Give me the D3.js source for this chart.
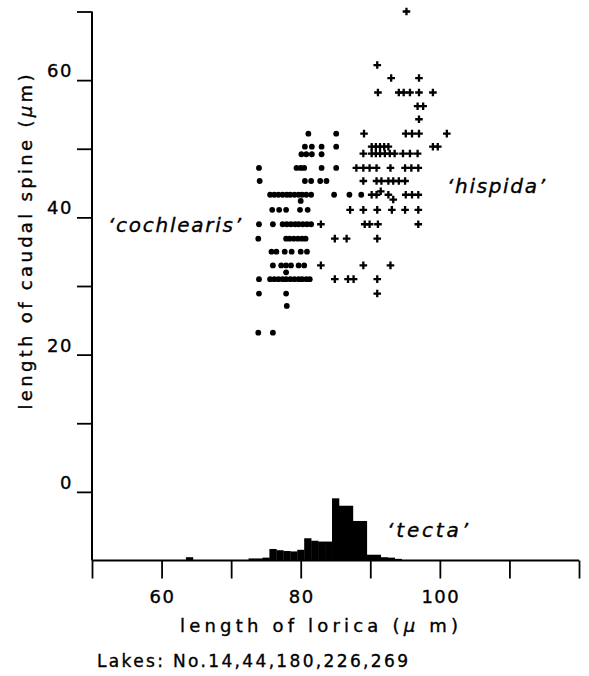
<!DOCTYPE html>
<html>
<head>
<meta charset="utf-8">
<script src="https://cdn.jsdelivr.net/npm/d3@7"></script>
<style>
  html, body { margin: 0; padding: 0; background: #fff; }
  svg { display: block; }
  text { font-family: "DejaVu Sans", sans-serif; fill: #000; stroke: #000; stroke-width: 0.35px; }
</style>
</head>
<body>
<div id="chart"></div>
<script>
// ---------- DATA ----------
// 'cochlearis' : [length of lorica (µm), length of caudal spine (µm)]
const cochlearis = [
  [81.1,52.2],[85.1,52.2],
  [80.6,50.3],[81.6,50.3],[83.0,50.3],[85.1,50.3],
  [80.1,49.2],[80.8,49.2],[81.6,49.2],[83.0,49.2],
  [74.0,47.2],[79.4,47.2],[80.0,47.2],[80.5,47.2],[83.0,47.2],[85.1,47.2],
  [74.1,45.3],[80.6,45.3],[81.5,45.3],[82.8,45.3],[83.7,45.3],
  [75.6,43.3],[76.2,43.3],[76.8,43.3],[77.4,43.3],[78.0,43.3],[78.5,43.3],[79.1,43.3],[79.7,43.3],[80.2,43.3],[80.8,43.3],[81.5,43.3],
  [80.0,42.4],[84.8,43.3],[87.0,43.3],[88.7,43.3],
  [75.9,41.1],[76.9,41.1],[77.9,41.1],[79.9,41.1],[81.0,41.1],
  [74.0,39.0],[76.0,39.0],[77.4,39.0],[78.0,39.0],[78.6,39.0],[79.2,39.0],[79.7,39.0],[80.3,39.0],[80.9,39.0],[81.5,39.0],
  [73.9,36.9],[77.9,36.9],[78.4,36.9],[79.0,36.9],[79.6,36.9],[80.2,36.9],[80.7,36.9],
  [75.8,35.0],[76.5,35.0],[77.7,35.0],[78.7,35.0],[80.0,35.0],[80.9,35.0],
  [76.0,33.0],[77.2,33.0],[77.9,33.0],[78.6,33.0],[79.7,33.0],[80.5,33.0],[77.9,32.0],
  [74.0,31.0],[75.6,31.0],[76.2,31.0],[76.8,31.0],[77.4,31.0],[77.9,31.0],[78.5,31.0],[79.1,31.0],[79.7,31.0],[80.2,31.0],[80.8,31.0],[81.3,31.0],
  [74.0,28.9],[77.9,28.9],
  [78.0,27.1],
  [73.9,23.2],[76.0,23.2]
];
// 'hispida'
const hispida = [
  [95.2,70.0],
  [91.0,62.2],
  [93.0,60.3],[97.0,60.3],
  [91.1,58.2],[94.1,58.2],[94.8,58.2],[95.7,58.2],[97.0,58.2],[99.0,58.2],
  [96.8,56.2],[97.6,56.2],
  [97.0,54.3],
  [89.1,52.2],[95.1,52.2],[96.0,52.2],[97.0,52.2],[101.0,52.2],
  [90.2,50.3],[90.8,50.3],[91.4,50.3],[92.0,50.3],[92.6,50.3],[99.0,50.3],[99.7,50.3],
  [89.0,49.3],[90.2,49.3],[90.8,49.3],[91.4,49.3],[92.1,49.3],[92.8,49.3],[93.5,49.3],[94.7,49.3],[95.7,49.3],[96.8,49.3],
  [88.0,47.2],[89.0,47.2],[89.9,47.2],[90.9,47.2],[92.9,47.2],[95.0,47.2],[95.9,47.2],[96.9,47.2],
  [89.0,45.3],[90.9,45.3],[91.6,45.3],[92.6,45.3],[93.3,45.3],[94.1,45.3],[95.0,45.3],
  [91.5,43.8],[90.2,43.3],[90.9,43.3],[92.6,43.3],[93.3,42.6],[95.1,43.3],[96.0,43.3],[96.9,43.3],
  [87.1,41.1],[89.0,41.1],[91.0,41.1],[93.1,41.1],[95.0,41.1],[96.9,41.1],
  [82.9,39.0],[89.2,39.0],[89.9,39.0],[91.1,39.0],[96.9,39.0],
  [84.9,36.9],[86.6,36.9],[91.0,36.9],
  [82.9,33.0],[89.0,33.0],[92.9,33.0],
  [84.9,31.0],[86.8,31.0],[87.6,31.0],[91.0,31.0],
  [91.0,28.9]
];
// 'tecta' : histogram of lorica length (bin centre µm, relative frequency %)
const tectaBins = [64, 73, 74, 75, 76, 77, 78, 79, 80, 81, 82, 83, 84, 85, 86, 87, 88, 89, 90, 91, 92, 93, 94];
const tectaFreq = [0.8, 0.5, 0.5, 0.7, 2.8, 2.5, 2.3, 2.2, 2.6, 5.4, 4.8, 4.6, 4.6, 15.1, 13.3, 13.3, 9.6, 9.6, 1.4, 1.4, 0.8, 0.7, 0.4];

const xTicks = [50, 60, 70, 80, 90, 100, 110, 120];
const xTickLabels = [60, 80, 100];
const yTicks = [0, 10, 20, 30, 40, 50, 60, 70];
const yTickLabels = [0, 20, 40, 60];

// ---------- LAYOUT ----------
const W = 589, H = 676;
const svg = d3.select("#chart").append("svg").attr("width", W).attr("height", H);

const x = d3.scaleLinear().domain([50, 120]).range([92, 579]);
const y = d3.scaleLinear().domain([-10, 70]).range([560.5, 11.5]);
const yHist = d3.scaleLinear().domain([0, 20]).range([y(-10), y(2)]);

// histogram
svg.append("g").selectAll("rect").data(tectaBins).join("rect")
  .attr("x", d => x(d - 0.5))
  .attr("width", d => x(d + 0.5) - x(d - 0.5) + 0.3)
  .attr("y", (d, i) => yHist(tectaFreq[i]))
  .attr("height", (d, i) => yHist(0) - yHist(tectaFreq[i]))
  .attr("fill", "#000");

// y axis
const yAxis = d3.axisLeft(y).tickValues(yTicks).tickSize(15).tickFormat("");
const gy = svg.append("g").attr("transform", "translate(92,0)").call(yAxis);
gy.select(".domain").remove();
gy.selectAll(".tick line").attr("stroke", "#000").attr("stroke-width", 1.8);
svg.append("line").attr("x1", 92).attr("x2", 92).attr("y1", y(70)).attr("y2", y(-10))
  .attr("stroke", "#000").attr("stroke-width", 2);
svg.append("g").selectAll("text").data(yTickLabels).join("text")
  .attr("x", 73).attr("y", d => y(d) - 3)
  .attr("text-anchor", "end").attr("font-size", 18).attr("letter-spacing", 1.5)
  .text(d => d);

// x axis
const xAxis = d3.axisBottom(x).tickValues(xTicks).tickSize(18).tickFormat("");
const gx = svg.append("g").attr("transform", `translate(0,${y(-10)})`).call(xAxis);
gx.select(".domain").remove();
gx.selectAll(".tick line").attr("stroke", "#000").attr("stroke-width", 1.8);
svg.append("line").attr("x1", x(50)).attr("x2", x(120)).attr("y1", y(-10)).attr("y2", y(-10))
  .attr("stroke", "#000").attr("stroke-width", 2);
svg.append("g").selectAll("text").data(xTickLabels).join("text")
  .attr("x", d => x(d) + 1).attr("y", 603)
  .attr("text-anchor", "middle").attr("font-size", 18).attr("letter-spacing", 1.5)
  .text(d => d);

// points
svg.append("g").selectAll("circle").data(cochlearis).join("circle")
  .attr("cx", d => x(d[0])).attr("cy", d => y(d[1])).attr("r", 2.9).attr("fill", "#000");
svg.append("g").selectAll("path").data(hispida).join("path")
  .attr("transform", d => `translate(${x(d[0])},${y(d[1])})`)
  .attr("d", "M-3.8,0H3.8M0,-3.8V3.8")
  .attr("stroke", "#000").attr("stroke-width", 2.3).attr("fill", "none");

// axis titles
const yl = svg.append("text")
  .attr("transform", "translate(32,242) rotate(-90)")
  .attr("text-anchor", "middle").attr("font-size", 18)
  .attr("textLength", 335).attr("lengthAdjust", "spacing");
yl.append("tspan").text("length of caudal spine (");
yl.append("tspan").attr("font-style", "italic").text("µ");
yl.append("tspan").text("m)");

const xl = svg.append("text")
  .attr("x", 180).attr("y", 632).attr("font-size", 18)
  .attr("textLength", 278).attr("lengthAdjust", "spacing");
xl.append("tspan").text("length of lorica (");
xl.append("tspan").attr("font-style", "italic").text("µ");
xl.append("tspan").text(" m)");

svg.append("text").attr("x", 97).attr("y", 667).attr("font-size", 17)
  .attr("textLength", 311).attr("lengthAdjust", "spacing")
  .text("Lakes: No.14,44,180,226,269");

// group labels
svg.append("text").attr("x", 108).attr("y", 232).attr("font-size", 20).attr("font-style", "italic")
  .attr("textLength", 133).attr("lengthAdjust", "spacing").text("\u2018cochlearis\u2019");
svg.append("text").attr("x", 447).attr("y", 193).attr("font-size", 20).attr("font-style", "italic")
  .attr("textLength", 98).attr("lengthAdjust", "spacing").text("\u2018hispida\u2019");
svg.append("text").attr("x", 387).attr("y", 537).attr("font-size", 20).attr("font-style", "italic")
  .attr("textLength", 81).attr("lengthAdjust", "spacing").text("\u2018tecta\u2019");
</script>
</body>
</html>
